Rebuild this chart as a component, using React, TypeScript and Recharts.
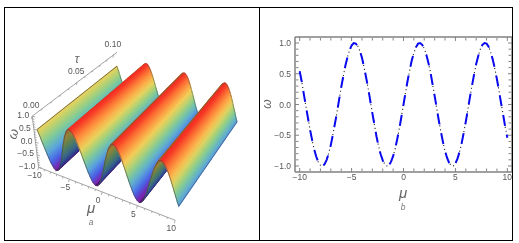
import { Fragment } from 'react';
import { Scatter, ScatterChart, LineChart, Line, XAxis, YAxis } from 'recharts';

const muValues = [
  -10, -9.8, -9.6, -9.4, -9.2, -9, -8.8, -8.6, -8.4, -8.2, -8, -7.8, -7.6, -7.4, -7.2, -7, -6.8,
  -6.6, -6.4, -6.2, -6, -5.8, -5.6, -5.4, -5.2, -5, -4.8, -4.6, -4.4, -4.2, -4, -3.8, -3.6, -3.4,
  -3.2, -3, -2.8, -2.6, -2.4, -2.2, -2, -1.8, -1.6, -1.4, -1.2, -1, -0.8, -0.6, -0.4, -0.2, 0,
  0.2, 0.4, 0.6, 0.8, 1, 1.2, 1.4, 1.6, 1.8, 2, 2.2, 2.4, 2.6, 2.8, 3, 3.2, 3.4, 3.6, 3.8, 4,
  4.2, 4.4, 4.6, 4.8, 5, 5.2, 5.4, 5.6, 5.8, 6, 6.2, 6.4, 6.6, 6.8, 7, 7.2, 7.4, 7.6, 7.8, 8,
  8.2, 8.4, 8.6, 8.8, 9, 9.2, 9.4, 9.6, 9.8, 10,
];
const omegaValues = [
  0.54, 0.37, 0.17, -0.03, -0.22, -0.41, -0.58, -0.73, -0.85, -0.94, -0.99, -1, -0.97, -0.9, -0.79,
  -0.66, -0.49, -0.31, -0.12, 0.08, 0.28, 0.46, 0.63, 0.77, 0.88, 0.96, 1, 0.99, 0.95, 0.87, 0.76,
  0.61, 0.44, 0.26, 0.06, -0.14, -0.33, -0.52, -0.68, -0.81, -0.91, -0.97, -1, -0.99, -0.93, -0.84,
  -0.72, -0.56, -0.39, -0.2, 0, 0.2, 0.39, 0.56, 0.72, 0.84, 0.93, 0.99, 1, 0.97, 0.91, 0.81, 0.68,
  0.52, 0.33, 0.14, -0.06, -0.26, -0.44, -0.61, -0.76, -0.87, -0.95, -0.99, -1, -0.96, -0.88, -0.77,
  -0.63, -0.46, -0.28, -0.08, 0.12, 0.31, 0.49, 0.66, 0.79, 0.9, 0.97, 1, 0.99, 0.94, 0.85, 0.73,
  0.58, 0.41, 0.22, 0.02, -0.17, -0.37, -0.54,
];
const tauSections = [0, 0.25, 0.5, 0.75, 1];
const muTicks = [-10, -5, 0, 5, 10];
const muMinorTicks = [-9, -8, -7, -6, -4, -3, -2, -1, 1, 2, 3, 4, 6, 7, 8, 9];
const omegaTicks = [-1, -0.5, 0, 0.5, 1];
const omegaMinorTicks = [-0.9, -0.8, -0.7, -0.6, -0.4, -0.3, -0.2, -0.1, 0.1, 0.2, 0.3, 0.4, 0.6, 0.7, 0.8, 0.9];
const tauTicks = [0, 0.05, 0.1];
const tauMinorTicks = [0.01, 0.02, 0.03, 0.04, 0.06, 0.07, 0.08, 0.09];

const colorStops: [number, number[]][] = [
  [-1, [125, 30, 170]],
  [-0.8, [70, 95, 230]],
  [-0.5, [90, 165, 220]],
  [-0.2, [120, 200, 160]],
  [0.05, [175, 210, 115]],
  [0.3, [240, 210, 90]],
  [0.55, [253, 165, 70]],
  [0.8, [252, 110, 50]],
  [1, [245, 45, 35]],
];

const GRAY = '#808080';
const FONT = '"Liberation Sans", Arial, sans-serif';

function surfaceColor(w: number, shade: number) {
  let i = 0;
  while (i < colorStops.length - 2 && w > colorStops[i + 1][0]) i++;
  const [a, ca] = colorStops[i];
  const [b, cb] = colorStops[i + 1];
  const f = (w - a) / (b - a);
  const c = ca.map((v, k) => Math.round((v + (cb[k] - v) * f) * shade));
  return `rgb(${c[0]},${c[1]},${c[2]})`;
}

// view of the box, t runs 0..1 along tau
function project(mu: number, t: number, w: number) {
  const d = 1 - 0.007 * mu + 0.24 * t - 0.033 * w;
  return {
    x: (104.2 + 6.2 * mu + 112.1 * t - 6 * w) / d,
    y: (165.9 + 1.34 * mu - 50.7 * t - 29.9 * w) / d,
  };
}

const noDot = () => null;
const noTick = () => <g />;

// lighting: first slope and the slopes facing away come out duller
function litColor(mu: number, w: number, facingAway: boolean) {
  const dull = mu < -7.8 || facingAway;
  const look = dull ? w - (0.25 * (w + 1)) / 1.54 : w;
  return surfaceColor(look, facingAway ? 0.62 : 1);
}

// filled quad, gradient runs across the strip and is worked out from the scaled points
function quadLine(id: string, c0: string, c1: string) {
  return (props: any) => {
    const [f0, f1, b1, b0] = props.points;
    const dirX = (b0.x + b1.x - f0.x - f1.x) / 2;
    const dirY = (b0.y + b1.y - f0.y - f1.y) / 2;
    const len = Math.hypot(dirX, dirY);
    const nx = -dirY / len;
    const ny = dirX / len;
    const midX = (f0.x + f1.x + b0.x + b1.x) / 4;
    const midY = (f0.y + f1.y + b0.y + b1.y) / 4;
    const half = ((f1.x + b1.x - f0.x - b0.x) * nx + (f1.y + b1.y - f0.y - b0.y) * ny) / 4;
    const d = `M${f0.x},${f0.y}L${f1.x},${f1.y}L${b1.x},${b1.y}L${b0.x},${b0.y}Z`;
    return (
      <g>
        <linearGradient id={id} gradientUnits="userSpaceOnUse" x1={midX - nx * half} y1={midY - ny * half} x2={midX + nx * half} y2={midY + ny * half}>
          <stop offset="0" stopColor={c0} />
          <stop offset="1" stopColor={c1} />
        </linearGradient>
        {/* the wider stroke closes the antialiased seam to the strip before */}
        <path d={d} fill={`url(#${id})`} stroke={`url(#${id})`} strokeWidth={1.1} />
      </g>
    );
  };
}

const strips = muValues.slice(0, -1).map((mu, i) => {
  const w0 = omegaValues[i];
  const w1 = omegaValues[i + 1];
  const mu1 = muValues[i + 1];
  const away = w1 > w0;
  const sections = tauSections.slice(0, -1).map((t0, s) => {
    const t1 = tauSections[s + 1];
    return {
      id: `s${i}_${s}`,
      quad: [project(mu, t0, w0), project(mu1, t0, w1), project(mu1, t1, w1), project(mu, t1, w0)],
    };
  });
  return {
    key: mu,
    c0: litColor(mu, w0, away),
    c1: litColor(mu, w1, away),
    sections,
    back: [project(mu, 1, w0), project(mu1, 1, w1)],
  };
});
const frontEdge = muValues.map((mu, i) => project(mu, 0, omegaValues[i]));
const leftEdge = [project(-10, 0, omegaValues[0]), project(-10, 1, omegaValues[0])];
const rightEdge = [project(10, 0, omegaValues[100]), project(10, 1, omegaValues[100])];

const fmtMinus = (v: number, digits: number) => v.toFixed(digits).replace('-', '\u2212');

const muAxisAt = (mu: number) => project(mu, -0.05, -0.9);
const tauAxisAt = (tau: number) => project(-10.4, tau * 10, 1.05);
const omegaAxisAt = (w: number) => {
  const f = (1 - w) / 2;
  return project(-10.4 + 0.4 * f, -0.05 * f, 1.05 - 1.95 * f);
};

const muAxisPts = muTicks.map((v) => ({ ...muAxisAt(v), label: fmtMinus(v, 0) }));
const muMinorPts = muMinorTicks.map((v) => muAxisAt(v));
const tauAxisPts = tauTicks.map((v) => ({ ...tauAxisAt(v), label: v.toFixed(2) }));
const tauMinorPts = tauMinorTicks.map((v) => tauAxisAt(v));
const omegaAxisPts = omegaTicks.map((v) => ({ ...omegaAxisAt(v), label: fmtMinus(v, 1) }));
const omegaMinorPts = omegaMinorTicks.map((v) => omegaAxisAt(v));

const axisLine = { stroke: '#999', strokeWidth: 0.9 };

function tickShape(dx: number, dy: number, tx: number, ty: number, anchor: string) {
  return (props: any) => (
    <g>
      <line x1={props.cx} y1={props.cy} x2={props.cx + dx} y2={props.cy + dy} stroke="#999" strokeWidth={0.8} />
      {props.payload.label ? (
        <text x={props.cx + tx} y={props.cy + ty} textAnchor={anchor} dominantBaseline="central" fontFamily={FONT} fontSize={8.5} fill="#555">
          {props.payload.label}
        </text>
      ) : null}
    </g>
  );
}

function SurfacePanel() {
  return (
    <ScatterChart width={260} height={243} margin={{ top: 0, right: 0, bottom: 0, left: 0 }}>
      <XAxis type="number" dataKey="x" domain={[0, 260]} hide />
      <YAxis type="number" dataKey="y" domain={[0, 243]} reversed hide />

      <Scatter data={[muAxisAt(-10), muAxisAt(10)]} line={axisLine} shape={noDot} isAnimationActive={false} />
      <Scatter data={[tauAxisAt(0), tauAxisAt(0.105)]} line={axisLine} shape={noDot} isAnimationActive={false} />
      <Scatter data={[omegaAxisAt(1), omegaAxisAt(-1)]} line={axisLine} shape={noDot} isAnimationActive={false} />
      <Scatter data={muAxisPts} shape={tickShape(-0.8, 3, -4, 8, 'middle')} isAnimationActive={false} />
      <Scatter data={muMinorPts} shape={tickShape(-0.5, 1.8, 0, 0, 'middle')} isAnimationActive={false} />
      <Scatter data={tauAxisPts} shape={tickShape(-1, 3, -1, -11, 'middle')} isAnimationActive={false} />
      <Scatter data={tauMinorPts} shape={tickShape(-0.6, 1.8, 0, 0, 'middle')} isAnimationActive={false} />
      <Scatter data={omegaAxisPts} shape={tickShape(3, 0.8, -3, -1.5, 'end')} isAnimationActive={false} />
      <Scatter data={omegaMinorPts} shape={tickShape(1.8, 0.5, 0, 0, 'end')} isAnimationActive={false} />

      {strips.map((s) => (
        <Fragment key={s.key}>
          {s.sections.map((sec) => (
            <Scatter key={sec.id} data={sec.quad} line={quadLine(sec.id, s.c0, s.c1)} shape={noDot} isAnimationActive={false} />
          ))}
          <Scatter data={s.back} line={{ stroke: '#50604a', strokeWidth: 0.6 }} shape={noDot} isAnimationActive={false} />
        </Fragment>
      ))}
      <Scatter data={frontEdge} line={{ stroke: '#444', strokeWidth: 0.6 }} shape={noDot} isAnimationActive={false} />
      <Scatter data={leftEdge} line={{ stroke: '#444', strokeWidth: 0.7 }} shape={noDot} isAnimationActive={false} />
      <Scatter data={rightEdge} line={{ stroke: '#335', strokeWidth: 0.5 }} shape={noDot} isAnimationActive={false} />

      <text x={91} y={207} textAnchor="middle" dominantBaseline="central" fontFamily={FONT} fontStyle="italic" fontSize={15} fill="#666">μ</text>
      <text x={91} y={222} textAnchor="middle" dominantBaseline="central" fontFamily={FONT} fontStyle="italic" fontSize={8.5} fill="#777">a</text>
      <text x={77} y={59} textAnchor="middle" dominantBaseline="central" fontFamily={FONT} fontStyle="italic" fontSize={12} fill="#666">τ</text>
      <text x={0} y={0} transform="translate(13 134) rotate(-75)" textAnchor="middle" dominantBaseline="central" fontFamily={FONT} fontStyle="italic" fontSize={13} fill="#666">ω</text>
    </ScatterChart>
  );
}

const curveData = muValues.map((mu, i) => ({ mu, omega: omegaValues[i] }));
const xDomain: [number, number] = [-10.45, 10.45];
const yDomain: [number, number] = [-1.098, 1.098];
const xMajor = [-10, -5, 0, 5, 10];
const xMinor = [-9, -8, -7, -6, -4, -3, -2, -1, 1, 2, 3, 4, 6, 7, 8, 9];
const yMajor = [-1, -0.5, 0, 0.5, 1];
const yMinor = [-0.9, -0.8, -0.7, -0.6, -0.4, -0.3, -0.2, -0.1, 0.1, 0.2, 0.3, 0.4, 0.6, 0.7, 0.8, 0.9];

const frameAxis = { stroke: GRAY, strokeWidth: 1.5 };
const tickMark = { stroke: '#777', strokeWidth: 0.9 };

// inner ticks on all four sides, each axis needs a hidden series to be drawn
function tickAxes() {
  const out: any[] = [];
  const sets: [number[], number][] = [[xMajor, 4], [xMinor, 2.5]];
  const ySets: [number[], number][] = [[yMajor, 4], [yMinor, 2.5]];
  (['bottom', 'top'] as const).forEach((side, s) => {
    sets.forEach(([ticks, size], i) => {
      const xId = `${side}${i}`;
      const yId = `${s === 0 ? 'left' : 'right'}${i}`;
      // main axes already draw the bottom and left lines
      const line = s === 1 && i === 0 ? frameAxis : false;
      out.push(
        <XAxis key={xId} xAxisId={xId} orientation={side} type="number" dataKey="mu" domain={xDomain} ticks={ticks} interval={0}
          mirror tick={noTick} tickSize={size} tickLine={tickMark} axisLine={line} height={1} allowDataOverflow />,
        <YAxis key={yId} yAxisId={yId} orientation={s === 0 ? 'left' : 'right'} type="number" domain={yDomain} ticks={ySets[i][0]} interval={0}
          mirror tick={noTick} tickSize={ySets[i][1]} tickLine={tickMark} axisLine={line} width={1} allowDataOverflow />,
        <Line key={xId + yId} xAxisId={xId} yAxisId={yId} dataKey="omega" stroke="none" dot={false} isAnimationActive={false} />,
      );
    });
  });
  return out;
}

function CurvePanel() {
  return (
    <LineChart width={259} height={243} data={curveData} margin={{ top: 37, right: 7, bottom: 0, left: 0 }}>
      {tickAxes()}
      <XAxis xAxisId="main" type="number" dataKey="mu" domain={xDomain} ticks={xMajor} interval={0} height={71} tickLine={false} tickSize={0} axisLine={frameAxis} tickMargin={2}
        tick={{ fontSize: 8.5, fill: '#555', fontFamily: FONT }} tickFormatter={(v) => fmtMinus(v, 0)} allowDataOverflow />
      <YAxis yAxisId="main" type="number" domain={yDomain} ticks={yMajor} interval={0} width={35} tickLine={false} tickSize={0} axisLine={frameAxis} tickMargin={4}
        tick={{ fontSize: 8.5, fill: '#555', fontFamily: FONT }} tickFormatter={(v) => fmtMinus(v, 1)} allowDataOverflow />
      <Line xAxisId="main" yAxisId="main" type="linear" dataKey="omega" stroke="#111" strokeWidth={1.1} strokeDasharray="1 3" dot={false} isAnimationActive={false} />
      <Line xAxisId="main" yAxisId="main" type="linear" dataKey="omega" stroke="#0a0af0" strokeWidth={2} strokeDasharray="11 9" dot={false} isAnimationActive={false} />
      <text x={143} y={192} textAnchor="middle" dominantBaseline="central" fontFamily={FONT} fontStyle="italic" fontSize={15} fill="#666">μ</text>
      <text x={143} y={207} textAnchor="middle" dominantBaseline="central" fontFamily={FONT} fontStyle="italic" fontSize={8.5} fill="#777">b</text>
      <text x={0} y={0} transform="translate(7 104) rotate(-90)" textAnchor="middle" dominantBaseline="central" fontFamily={FONT} fontStyle="italic" fontSize={12} fill="#666">ω</text>
    </LineChart>
  );
}

export default function App() {
  return (
    <div style={{ position: 'absolute', left: 0, top: 0, width: 519, height: 243, background: '#fff', overflow: 'hidden' }}>
      <div style={{ position: 'absolute', left: 0, top: 0, filter: 'blur(0.35px)' }}>
        <SurfacePanel />
      </div>
      <div style={{ position: 'absolute', left: 260, top: 0, filter: 'blur(0.3px)' }}>
        <CurvePanel />
      </div>
      <div style={{ position: 'absolute', left: 4, top: 7, width: 507, height: 232, border: '1px solid #000' }} />
      <div style={{ position: 'absolute', left: 259, top: 7, width: 1, height: 233, background: '#000' }} />
    </div>
  );
}
